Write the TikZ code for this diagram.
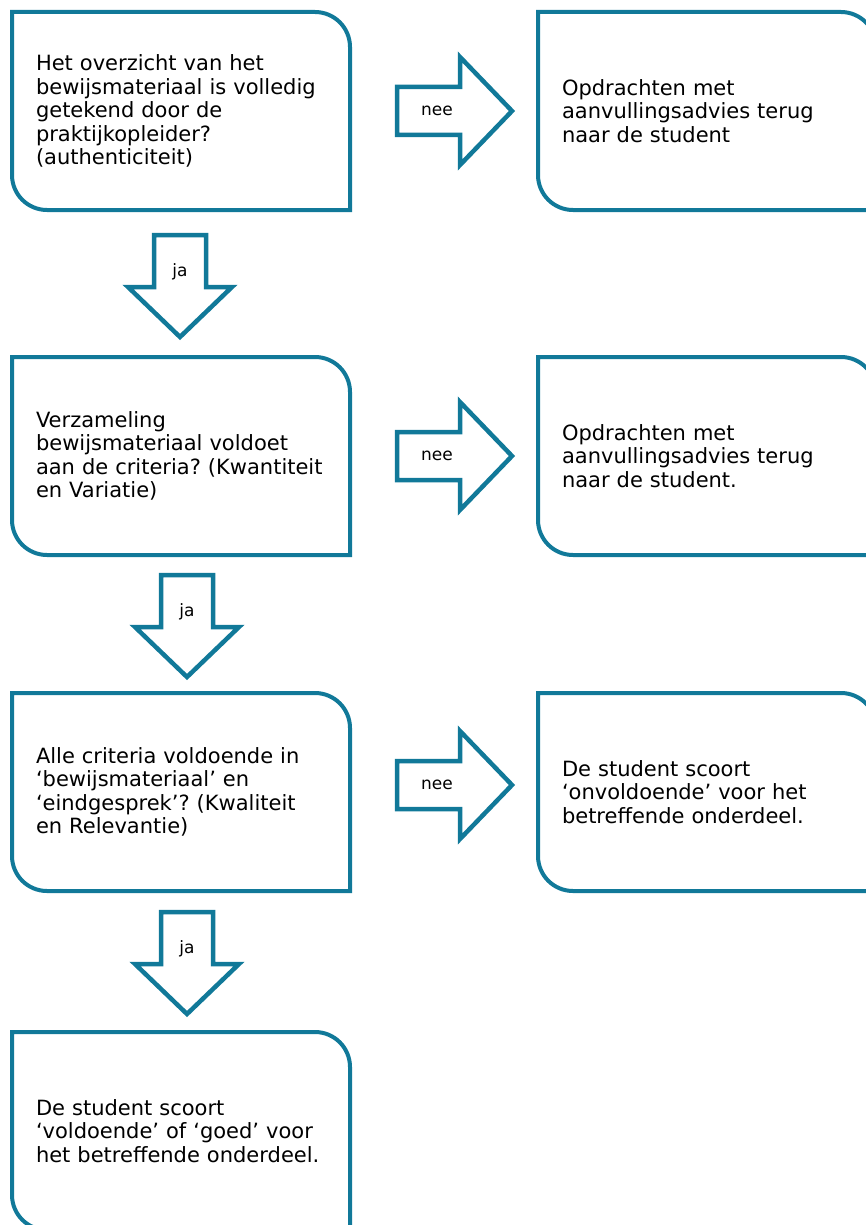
\documentclass[tikz,border=0pt]{standalone}
\usepackage{fontspec}
\setmainfont{DejaVu Sans}
\usetikzlibrary{positioning}

\definecolor{petrol}{RGB}{17,121,153}

\tikzstyle{box} = [rectangle, outer sep=0pt, inner xsep=24pt, inner ysep=0pt, text width=290pt, minimum height=198pt, align=left, anchor=north west, font=\fontsize{21}{23.5}\selectfont\frenchspacing]
\tikzstyle{rim} = [draw=petrol, line width=4pt]
\tikzstyle{pijl} = [draw=petrol, line width=4.5pt, fill=white, line join=miter]
\tikzstyle{tag} = [font=\fontsize{17}{20}\selectfont]

% outline with two rounded corners (top right, bottom left)
\newcommand{\omtrek}[1]{%
  \draw[rim] (#1.north west) -- ([xshift=-35pt]#1.north east)
    arc[start angle=90, end angle=0, radius=35pt] -- (#1.south east)
    -- ([xshift=35pt]#1.south west)
    arc[start angle=270, end angle=180, radius=35pt] -- cycle;}

\begin{document}
\begin{tikzpicture}[x=1pt, y=1pt]
\useasboundingbox (0,0) rectangle (866,-1225);
\clip (0,0) rectangle (866,-1225);

% left column: questions
\node[box] (q1) at (12,-12) {Het overzicht van het\\ bewijsmateriaal is volledig\\ getekend door de\\ praktijkopleider?\\ (authenticiteit)};
\node[box, below=147pt of q1] (q2) {Verzameling\\ bewijsmateriaal voldoet\\ \mbox{aan de criteria? (Kwantiteit}\\ en Variatie)};
\node[box, below=138pt of q2] (q3) {Alle criteria voldoende in\\ `bewijsmateriaal' en\\ \mbox{`eindgesprek'? (Kwaliteit}\\ en Relevantie)};
\node[box, below=141pt of q3] (q4) {De student scoort\\ `voldoende' of `goed' voor\\ het betreffende onderdeel.};

% right column: outcomes
\node[box, right=188pt of q1] (u1) {Opdrachten met\\ aanvullingsadvies terug\\ naar de student};
\node[box, right=188pt of q2] (u2) {Opdrachten met\\ aanvullingsadvies terug\\ naar de student.};
\node[box, right=188pt of q3] (u3) {De student scoort\\ `onvoldoende' voor het\\ betreffende onderdeel.};

\omtrek{q1}
\omtrek{q2}
\omtrek{q3}
\omtrek{q4}
\omtrek{u1}
\omtrek{u2}
\omtrek{u3}

% nee arrows
\draw[pijl] ([xshift=47pt,yshift=24pt]q1.east) -- ++(63,0) -- ++(0,30) -- ++(52,-54) -- ++(-52,-54) -- ++(0,30) -- ++(-63,0) -- cycle;
\node[tag] (n1) at ([xshift=87pt]q1.east) {nee};
\draw[pijl] ([xshift=47pt,yshift=24pt]q2.east) -- ++(63,0) -- ++(0,30) -- ++(52,-54) -- ++(-52,-54) -- ++(0,30) -- ++(-63,0) -- cycle;
\node[tag] (n2) at ([xshift=87pt]q2.east) {nee};
\draw[pijl] ([xshift=47pt,yshift=31pt]q3.east) -- ++(63,0) -- ++(0,30) -- ++(52,-54) -- ++(-52,-54) -- ++(0,30) -- ++(-63,0) -- cycle;
\node[tag] (n3) at ([xshift=87pt,yshift=7pt]q3.east) {nee};

% ja arrows
\draw[pijl] ([xshift=142pt,yshift=-25pt]q1.south west) -- ++(52,0) -- ++(0,-52) -- ++(26,0) -- ++(-52,-50) -- ++(-52,50) -- ++(26,0) -- cycle;
\node[tag] (j1) at ([xshift=168pt,yshift=-62pt]q1.south west) {ja};
\draw[pijl] ([xshift=149pt,yshift=-20pt]q2.south west) -- ++(52,0) -- ++(0,-52) -- ++(26,0) -- ++(-52,-50) -- ++(-52,50) -- ++(26,0) -- cycle;
\node[tag] (j2) at ([xshift=175pt,yshift=-57pt]q2.south west) {ja};
\draw[pijl] ([xshift=149pt,yshift=-21pt]q3.south west) -- ++(52,0) -- ++(0,-52) -- ++(26,0) -- ++(-52,-50) -- ++(-52,50) -- ++(26,0) -- cycle;
\node[tag] (j3) at ([xshift=175pt,yshift=-58pt]q3.south west) {ja};
\end{tikzpicture}
\end{document}
